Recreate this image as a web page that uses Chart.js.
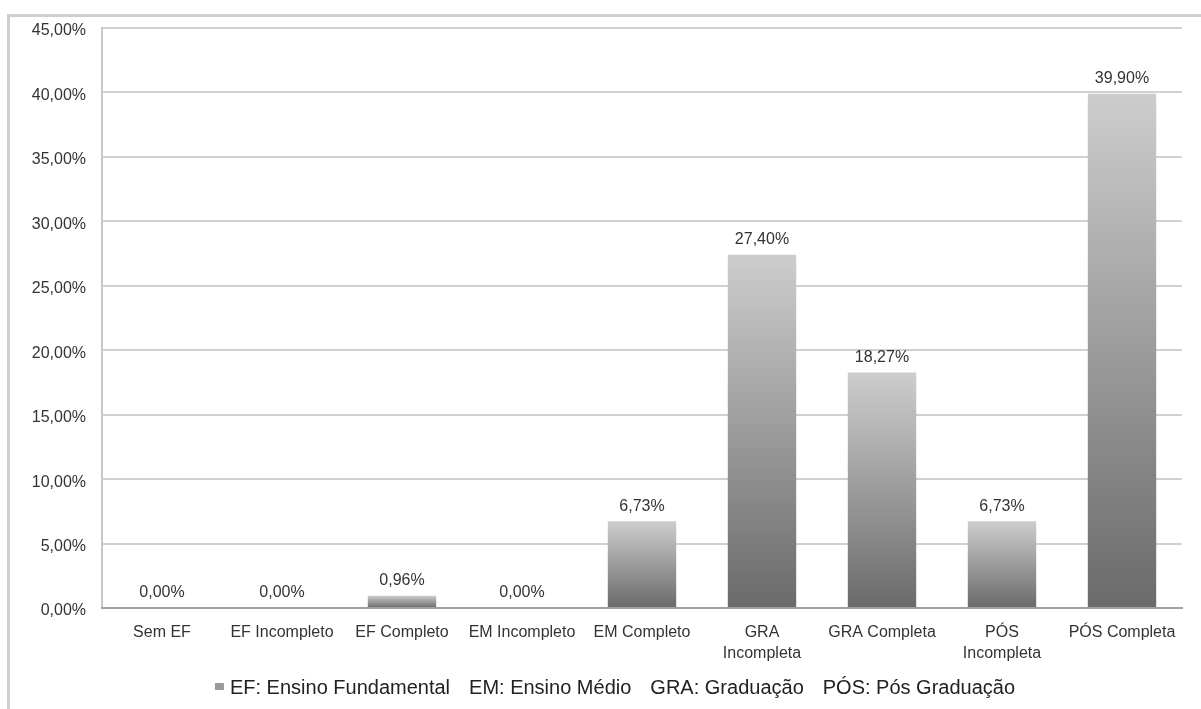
<!DOCTYPE html>
<html>
<head>
<meta charset="utf-8">
<script src="https://cdn.jsdelivr.net/npm/chart.js@4/dist/chart.umd.min.js"></script>
<style>
    html, body { margin: 0; padding: 0; background: #fff; }
    #cadre {
        position: absolute;
        left: 7px;
        top: 14px;
        width: 1194px;
        height: 695px;
        border-top: 3px solid #cfcfcf;
        border-left: 3px solid #cfcfcf;
        box-sizing: border-box;
    }
    #zone { position: absolute; left: 0; top: 0; width: 1201px; height: 709px; }
</style>
</head>
<body>
<div id="cadre"></div>
<div id="zone"><canvas id="grafico" width="1201" height="709"></canvas></div>
<script>
// Escolaridade dos respondentes (%)
var categorias = [
    "Sem EF", "EF Incompleto", "EF Completo", "EM Incompleto", "EM Completo",
    ["GRA", "Incompleta"], "GRA Completa", ["PÓS", "Incompleta"], "PÓS Completa"
];
var percentuais = [0.00, 0.00, 0.96, 0.00, 6.73, 27.40, 18.27, 6.73, 39.90];
var siglas = ["EF: Ensino Fundamental", "EM: Ensino Médio", "GRA: Graduação", "PÓS: Pós Graduação"];

var FONTE = "'Liberation Sans', Arial, sans-serif";

function formata(v) {
    return v.toFixed(2).replace(".", ",") + "%";
}

// degrade claro em cima, escuro embaixo, em cada barra
function corBarra(ctx) {
    var chart = ctx.chart;
    if (!chart.chartArea || !chart.scales.y) return "#999";
    var y = chart.scales.y;
    var topo = y.getPixelForValue(ctx.raw);
    var base = y.getPixelForValue(0);
    if (base - topo < 1) return "#888";
    var g = chart.ctx.createLinearGradient(0, topo, 0, base);
    g.addColorStop(0, "#cdcdcd");
    g.addColorStop(1, "#6a6a6a");
    return g;
}

// rotulos em cima das barras
var rotulos = {
    id: "rotulos",
    afterDatasetsDraw: function (chart) {
        var c = chart.ctx;
        var meta = chart.getDatasetMeta(0);
        c.save();
        c.font = "16px " + FONTE;
        c.fillStyle = "#333";
        c.textAlign = "center";
        c.textBaseline = "middle";
        meta.data.forEach(function (barra, i) {
            c.fillText(formata(percentuais[i]), barra.x, barra.y - 15);
        });
        c.restore();
    }
};

// legenda embaixo: quadradinho + siglas
var legendaSiglas = {
    id: "legendaSiglas",
    afterDraw: function (chart) {
        var c = chart.ctx;
        var espaco = 19, caixa = 9;
        c.save();
        c.font = "20px " + FONTE;
        var larguras = siglas.map(function (s) { return c.measureText(s).width; });
        var total = caixa + 6 + larguras.reduce(function (a, b) { return a + b; }, 0) + espaco * (siglas.length - 1);
        var x = 615 - total / 2;
        var y = 688;
        c.fillStyle = "#9a9a9a";
        c.fillRect(x, y - 5, caixa, 7);
        x += caixa + 6;
        c.fillStyle = "#222";
        c.textAlign = "left";
        c.textBaseline = "middle";
        siglas.forEach(function (s, i) {
            c.fillText(s, x, y);
            x += larguras[i] + espaco;
        });
        c.restore();
    }
};

new Chart(document.getElementById("grafico"), {
    type: "bar",
    data: {
        labels: categorias,
        datasets: [{
            label: siglas.join("   "),
            data: percentuais,
            backgroundColor: corBarra,
            borderWidth: 0,
            categoryPercentage: 0.57,
            barPercentage: 1
        }]
    },
    options: {
        responsive: false,
        animation: false,
        layout: { padding: { left: 10, right: 19, top: 28, bottom: 41 } },
        plugins: {
            tooltip: { enabled: false },
            legend: { display: false }
        },
        scales: {
            y: {
                min: 0,
                max: 45,
                afterFit: function (s) { s.width = 92; },
                ticks: {
                    stepSize: 5,
                    padding: 16,
                    labelOffset: 3,
                    color: "#333",
                    font: { family: FONTE, size: 16 },
                    callback: function (v) { return formata(v); }
                },
                grid: { color: "#d0d0d0", lineWidth: 2, drawTicks: false },
                border: { color: "#c8c8c8", width: 2 }
            },
            x: {
                afterFit: function (s) { s.height = 60; },
                ticks: {
                    padding: 14,
                    maxRotation: 0,
                    autoSkip: false,
                    color: "#333",
                    font: { family: FONTE, size: 16, lineHeight: 1.3 }
                },
                grid: { display: false, drawTicks: false },
                border: { color: "#a0a0a0", width: 2 }
            }
        }
    },
    plugins: [rotulos, legendaSiglas]
});
</script>
</body>
</html>
